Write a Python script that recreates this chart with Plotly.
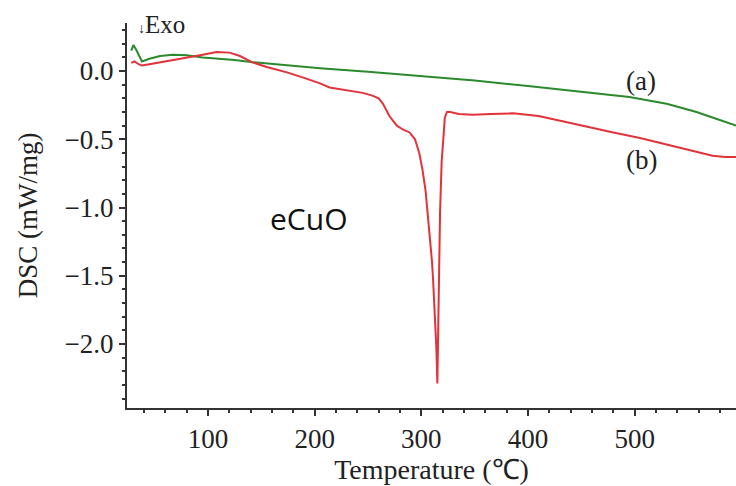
import plotly.graph_objects as go

# Curve (a): green
temp_a = [28, 30, 33, 38, 45, 55, 67, 80, 95, 111, 125, 142, 170, 205, 250, 308, 350,
          400, 450, 495, 530, 558, 573, 585, 595]
dsc_a = [0.15, 0.19, 0.15, 0.07, 0.09, 0.11, 0.12, 0.115, 0.10, 0.09, 0.08, 0.065, 0.045,
         0.02, -0.005, -0.04, -0.07, -0.11, -0.15, -0.19, -0.24, -0.30, -0.34, -0.37, -0.40]

# Curve (b): red
temp_b = [28, 31, 35, 38, 45, 60, 80, 95, 108, 120, 130, 141, 155, 174, 190, 205, 214, 230,
          245, 254, 260, 264, 270, 277, 283, 289, 294, 298, 301, 304, 306, 308, 310, 311,
          312.5, 314, 315, 316, 317, 317.5, 319, 322, 324, 327, 335, 348, 365, 386, 410,
          433, 455, 480, 505, 526, 550, 573, 585, 595]
dsc_b = [0.06, 0.07, 0.05, 0.04, 0.05, 0.07, 0.095, 0.12, 0.14, 0.135, 0.11, 0.065, 0.03,
         -0.01, -0.05, -0.09, -0.12, -0.14, -0.16, -0.18, -0.20, -0.24, -0.33, -0.40, -0.43,
         -0.45, -0.50, -0.60, -0.72, -0.88, -1.05, -1.20, -1.40, -1.53, -1.75, -2.02, -2.29,
         -1.77, -1.30, -1.04, -0.67, -0.34, -0.30, -0.30, -0.315, -0.32, -0.315, -0.31,
         -0.33, -0.37, -0.41, -0.45, -0.49, -0.53, -0.58, -0.62, -0.63, -0.63]

x_ticks = [100, 200, 300, 400, 500]
y_ticks = [0.0, -0.5, -1.0, -1.5, -2.0]

serif = "Liberation Serif"

fig = go.Figure()
fig.add_trace(go.Scatter(x=temp_a, y=dsc_a, mode="lines",
                         line=dict(color="#2b8a2b", width=2), showlegend=False))
fig.add_trace(go.Scatter(x=temp_b, y=dsc_b, mode="lines",
                         line=dict(color="#e2323a", width=2), showlegend=False))

axis_common = dict(showline=True, linecolor="#333333", linewidth=2, showgrid=False,
                   zeroline=False, ticks="outside", ticklen=6, tickwidth=1.5,
                   tickcolor="#333333", tickfont=dict(family=serif, size=27, color="#222"))

fig.update_xaxes(range=[24, 595], tickvals=x_ticks,
                 ticktext=[str(v) for v in x_ticks],
                 minor=dict(dtick=20, ticks="outside", ticklen=3, tickcolor="#333333"),
                 title=dict(text="Temperature (℃)", font=dict(family=serif, size=28, color="#222"),
                            standoff=5),
                 **axis_common)
fig.update_yaxes(range=[-2.469, 0.352], tickvals=y_ticks,
                 ticktext=["0.0", "−0.5", "−1.0", "−1.5", "−2.0"],
                 minor=dict(dtick=0.1, ticks="outside", ticklen=3, tickcolor="#333333"),
                 title=dict(text="DSC (mW/mg)", font=dict(family=serif, size=27, color="#222"),
                            standoff=19),
                 **axis_common)

fig.add_annotation(x=506, y=-0.073, text="(a)", showarrow=False,
                   font=dict(family=serif, size=27, color="#222"))
fig.add_annotation(x=506, y=-0.652, text="(b)", showarrow=False,
                   font=dict(family=serif, size=27, color="#222"))
fig.add_annotation(x=194, y=-1.077, text="eCuO", showarrow=False,
                   font=dict(family="Open Sans", size=30, color="#111"))
fig.add_annotation(xref="paper", yref="paper", x=0.056, y=0.997, text="<span style='font-size:14px'>↓</span>Exo",
                   showarrow=False, xanchor="center", yanchor="middle",
                   font=dict(family=serif, size=25, color="#222"))

fig.update_layout(width=736, height=486, margin=dict(l=127, r=0, t=23, b=78),
                  paper_bgcolor="white", plot_bgcolor="white")

fig.write_html("out.html")
